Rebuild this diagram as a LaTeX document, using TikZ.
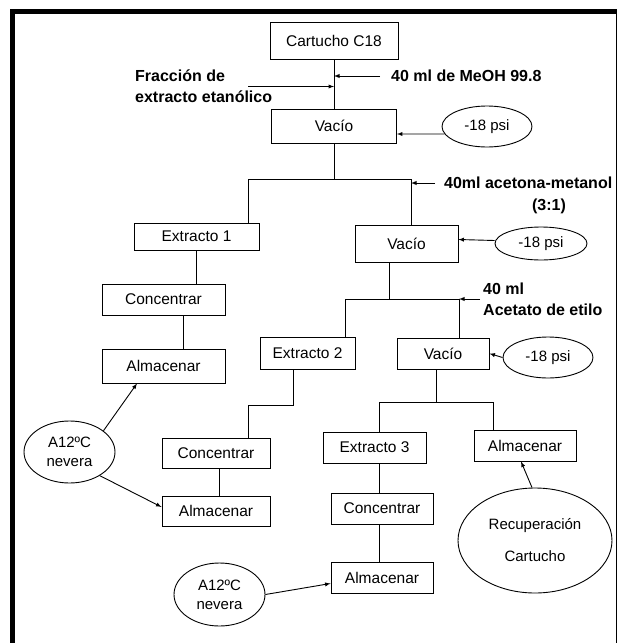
\documentclass[tikz,border=0pt]{standalone}
\usepackage{fontspec}
\setmainfont{Liberation Sans}
\usetikzlibrary{shapes.geometric}
\tikzset{
  box/.style={draw, rectangle, inner sep=0pt, line width=0.9pt, font=\fontsize{15.5}{19}\selectfont},
  oval/.style={draw, ellipse, inner sep=0pt, line width=0.9pt, align=center, font=\fontsize{15}{19}\selectfont},
  note/.style={inner sep=3pt, align=left, font=\fontsize{16}{21}\selectfont\bfseries},
  conn/.style={line width=0.9pt},
  arr/.style={line width=0.9pt, -latex},
}
\begin{document}
\begin{tikzpicture}[x=1pt,y=-1pt]
    \clip (0,0) rectangle (617,643);
    \draw[line width=5pt] (12.5,11.5) rectangle (618,660);
    \node[box,minimum width=128pt,minimum height=37pt](cart) at (334,40.5) {Cartucho C18};
    \node[box,minimum width=125pt,minimum height=34pt](vac1) at (334,126) {Vacío};
    \node[oval,minimum width=90pt,minimum height=41pt](psi1) at (487,126.5) {-18 psi};
    \node[box,minimum width=125pt,minimum height=27pt](ext1) at (196.5,236.5) {Extracto 1};
    \node[box,minimum width=103pt,minimum height=37pt](vac2) at (406.5,243.5) {Vacío};
    \node[oval,minimum width=92pt,minimum height=33pt](psi2) at (541,243.5) {-18 psi};
    \node[box,minimum width=123pt,minimum height=31pt](conc1) at (163.5,299.5) {Concentrar};
    \node[box,minimum width=123pt,minimum height=34pt](alm1) at (163.5,366) {Almacenar};
    \node[box,minimum width=95pt,minimum height=32pt](ext2) at (307.5,353) {Extracto 2};
    \node[box,minimum width=92pt,minimum height=31pt](vac3) at (443,353.5) {Vacío};
    \node[oval,minimum width=90pt,minimum height=41pt](psi3) at (548,357.5) {-18 psi};
    \node[oval,minimum width=91pt,minimum height=62pt](nev1) at (69.5,452) {A12ºC\\nevera};
    \node[box,minimum width=108pt,minimum height=30pt](conc2) at (216,453) {Concentrar};
    \node[box,minimum width=108pt,minimum height=30pt](alm2) at (216,511) {Almacenar};
    \node[box,minimum width=103pt,minimum height=31pt](ext3) at (374.5,447.5) {Extracto 3};
    \node[box,minimum width=102pt,minimum height=31pt](almR) at (525,445.5) {Almacenar};
    \node[box,minimum width=102pt,minimum height=31pt](conc3) at (382,508.5) {Concentrar};
    \node[box,minimum width=102pt,minimum height=31pt](alm3) at (382,577.5) {Almacenar};
    \node[oval,minimum width=154pt,minimum height=105pt,font=\fontsize{15}{32}\selectfont](rec) at (535,540.5) {Recuperación\\Cartucho};
    \node[oval,minimum width=91pt,minimum height=63pt](nev2) at (219.5,594.5) {A12ºC\\nevera};
    \node[note,anchor=west](meoh) at (388,76) {40 ml de MeOH 99.8};
    \node[note,anchor=west](frac) at (132,86.5) {Fracción de\\extracto etanólico};
    \node[note,anchor=west](acet) at (441,183) {40ml acetona-metanol};
    \node[note](ratio) at (549,206) {(3:1)};
    \node[note,anchor=west](etil) at (480,299) {40 ml\\Acetato de etilo};
    \coordinate (s1) at (334,179);
    \coordinate (l1) at (248,179);
    \coordinate (r1) at (411,179);
    \coordinate (s2) at (389,299);
    \coordinate (l2) at (345,299);
    \coordinate (r2) at (459,299);
    \coordinate (s3) at (436,402);
    \coordinate (l3) at (379,402);
    \coordinate (r3) at (493,402);
    \draw[conn] (cart.south) -- (vac1.north);
    \draw[arr] ([xshift=-8pt]meoh.west) -- (meoh.west -| cart.south);
    \draw[arr] ([xshift=-27pt]frac.east) -- (frac.east -| cart.south);
    \draw[arr] (psi1.190) -- ([yshift=-8pt]vac1.east);
    \draw[conn] (vac1.south) -- (s1);
    \draw[conn] (ext1.north -| l1) -- (l1) -- (r1) -- (vac2.north -| r1);
    \draw[arr] ([xshift=-6pt]acet.west) -- (acet.west -| r1);
    \draw[arr] ([yshift=3pt]psi2.west) -- ([yshift=4pt]vac2.east);
    \draw[conn] (vac2.south -| s2) -- (s2);
    \draw[conn] (ext2.north -| l2) -- (l2) -- (r2) -- (vac3.north -| r2);
    \draw[arr] (etil.west) -- (etil.west -| r2);
    \draw[arr] (psi3.west) -- (vac3.east);
    \draw[conn] (vac3.south -| s3) -- (s3);
    \draw[conn] (ext3.north -| l3) -- (l3) -- (r3) -- (almR.north -| r3);
    \draw[conn] (ext1.south) -- (ext1.south |- conc1.north);
    \draw[conn] ([xshift=19.5pt]conc1.south) -- ([xshift=19.5pt]alm1.north);
    \draw[conn] ([xshift=-14.5pt]ext2.south) -- ++(0,36) -| ([xshift=32pt]conc2.north);
    \draw[conn] ([xshift=3pt]conc2.south) -- ([xshift=3pt]alm2.north);
    \draw[conn] (ext3.south -| l3) -- (conc3.north -| l3);
    \draw[conn] (conc3.south -| l3) -- (alm3.north -| l3);
    \draw[arr] (nev1.32) -- ([xshift=-26.5pt]alm1.south);
    \draw[arr] (nev1.-38) -- ([yshift=4pt]alm2.west);
    \draw[arr] (nev2.east) -- ([yshift=-6pt]alm3.west);
    \draw[arr] ([xshift=-3pt]rec.north) -- ([xshift=-4pt]almR.south);
\end{tikzpicture}
\end{document}
